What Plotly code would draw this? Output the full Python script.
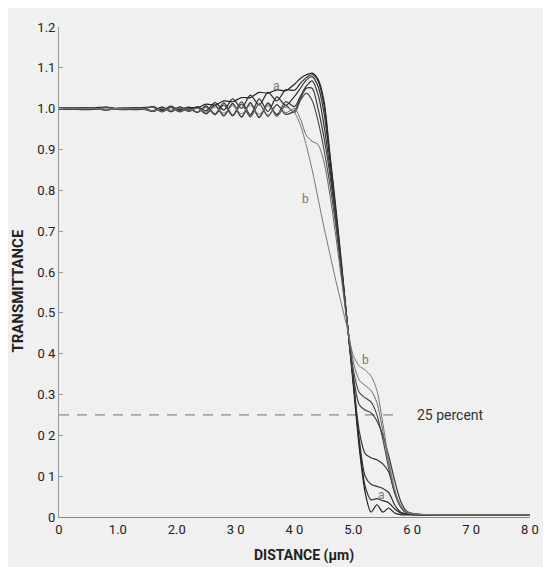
import plotly.graph_objects as go

# ---------------- data ----------------
distance = [0, 0.3, 0.6, 0.8, 1.0, 1.2, 1.4, 1.6, 1.75, 1.9, 2.05, 2.2, 2.35, 2.5, 2.65,
            2.8, 2.95, 3.1, 3.25, 3.4, 3.55, 3.7, 3.85, 4.0, 4.1, 4.2, 4.3, 4.4, 4.5, 4.6,
            4.7, 4.8, 4.9, 5.0, 5.1, 5.2, 5.3, 5.4, 5.5, 5.6, 5.7, 5.8, 5.9, 6.0, 6.2, 6.5,
            7.0, 8.0]

curve_a = [1.002, 1.002, 1.002, 1.004, 1.0, 1.002, 1.002, 1.004, 0.997, 1.004, 0.998, 1.003, 1.002,
           1.011, 1.009, 1.019, 1.017, 1.027, 1.027, 1.04, 1.038, 1.046, 1.044, 1.06, 1.074,
           1.083, 1.087, 1.072, 1.02, 0.89, 0.76, 0.62, 0.47, 0.32, 0.17, 0.06, 0.012, 0.03,
           0.012, 0.022, 0.01, 0.006, 0.005, 0.005, 0.005, 0.005, 0.005, 0.005]
curve_2 = [1.0, 1.0, 1.0, 0.997, 1.001, 1.0, 1.0, 0.995, 1.004, 0.995, 1.004, 0.997, 1.005,
           0.995, 1.015, 0.997, 1.024, 1.001, 1.033, 1.009, 1.04, 1.019, 1.046, 1.045, 1.062,
           1.076, 1.083, 1.068, 1.01, 0.885, 0.75, 0.61, 0.47, 0.33, 0.18, 0.075, 0.042,
           0.045, 0.04, 0.035, 0.02, 0.01, 0.007, 0.006, 0.005, 0.005, 0.005, 0.005]
curve_3 = [0.998, 0.998, 0.998, 1.003, 0.998, 0.998, 0.998, 1.005, 0.995, 1.006, 0.995, 1.004, 0.991,
           1.007, 0.987, 1.014, 0.984, 1.017, 0.985, 1.024, 0.993, 1.029, 1.008, 1.03, 1.05,
           1.07, 1.078, 1.055, 0.99, 0.875, 0.745, 0.61, 0.47, 0.33, 0.19, 0.1, 0.08, 0.075,
           0.07, 0.06, 0.03, 0.012, 0.007, 0.006, 0.005, 0.005, 0.005, 0.005]
curve_4 = [1.001, 1.001, 1.001, 0.997, 1.001, 1.001, 1.001, 0.994, 1.004, 0.993, 1.004, 0.995, 1.003,
           0.988, 1.009, 0.983, 1.013, 0.98, 1.015, 0.979, 1.014, 0.985, 1.017, 1.005, 1.03,
           1.055, 1.068, 1.035, 0.96, 0.855, 0.74, 0.605, 0.47, 0.335, 0.21, 0.155, 0.145,
           0.14, 0.13, 0.11, 0.06, 0.025, 0.01, 0.007, 0.006, 0.005, 0.005, 0.005]
curve_5 = [0.999, 0.999, 0.999, 1.003, 0.999, 0.999, 0.999, 1.004, 0.992, 1.003, 0.992, 1.0, 0.991,
           1.004, 0.985, 1.009, 0.982, 1.011, 0.98, 1.012, 0.981, 1.01, 0.986, 0.995, 1.025,
           1.05, 1.05, 1.0, 0.93, 0.84, 0.73, 0.6, 0.47, 0.345, 0.275, 0.262, 0.255, 0.235,
           0.2, 0.15, 0.09, 0.04, 0.015, 0.009, 0.006, 0.005, 0.005, 0.005]
curve_6 = [1.0, 1.0, 1.0, 0.997, 1.001, 1.0, 1.0, 0.993, 1.002, 0.992, 1.003, 0.993, 1.002,
           0.987, 1.008, 0.982, 1.012, 0.979, 1.014, 0.978, 1.013, 0.981, 1.008, 0.99, 1.02,
           1.038, 1.02, 0.97, 0.9, 0.815, 0.715, 0.595, 0.47, 0.36, 0.305, 0.292, 0.282,
           0.25, 0.19, 0.12, 0.06, 0.025, 0.01, 0.007, 0.006, 0.005, 0.005, 0.005]
curve_7 = [1.0, 1.0, 1.0, 1.002, 0.999, 1.0, 1.0, 1.003, 0.993, 1.003, 0.994, 1.0, 0.992,
           1.004, 0.987, 1.008, 0.984, 1.01, 0.983, 1.011, 0.984, 1.009, 0.99, 1.0, 0.975,
           0.935, 0.92, 0.912, 0.87, 0.79, 0.69, 0.58, 0.47, 0.38, 0.335, 0.322, 0.31, 0.28,
           0.21, 0.13, 0.065, 0.03, 0.012, 0.008, 0.006, 0.005, 0.005, 0.005]
curve_b = [1.0, 1.0, 1.0, 0.998, 1.0, 1.0, 1.0, 0.995, 1.001, 0.995, 1.001, 0.996, 1.001,
           0.992, 1.004, 0.989, 1.007, 0.987, 1.008, 0.986, 1.007, 0.988, 1.004, 0.99, 0.96,
           0.91, 0.85, 0.78, 0.71, 0.645, 0.58, 0.52, 0.46, 0.395, 0.37, 0.36, 0.345, 0.31,
           0.23, 0.14, 0.07, 0.025, 0.012, 0.008, 0.006, 0.005, 0.005, 0.005]

curves = [curve_a, curve_2, curve_3, curve_4, curve_5, curve_6, curve_7, curve_b]
curve_colors = ["#222222", "#2a2a2a", "#303030", "#353535", "#3a3a3a", "#454545", "#666666", "#777777"]
curve_widths = [1.2, 1.2, 1.2, 1.2, 1.2, 1.1, 1.0, 1.0]

x_tickvals = [0, 1, 2, 3, 4, 5, 6, 7, 8]
x_ticktext = ["0", "1.0", "2.0", "3 0", "4 0", "5.0", "6 0", "7 0", "8 0"]
y_tickvals = [0, 0.1, 0.2, 0.3, 0.4, 0.5, 0.6, 0.7, 0.8, 0.9, 1.0, 1.1, 1.2]
y_ticktext = ["0", "0 1", "0 2", "0.3", "0 4", "0.5", "0.6", "0.7", "0.8", "0.9", "1.0", "1.1", "1.2"]

threshold = 0.25
threshold_end = 5.77
threshold_label = "25 percent"

curve_labels = [("a", 3.69, 1.055), ("b", 4.18, 0.78), ("b", 5.2, 0.385), ("a", 5.47, 0.055)]

# ---------------- figure ----------------
FONT = "Roboto, Liberation Sans, Arial, sans-serif"

fig = go.Figure()

fig.add_trace(go.Scatter(
    x=[0, threshold_end], y=[threshold, threshold], mode="lines",
    line=dict(color="#707070", width=1, dash="10px,8px"), hoverinfo="skip", showlegend=False))

for c, col, w in zip(curves, curve_colors, curve_widths):
    fig.add_trace(go.Scatter(
        x=distance, y=c, mode="lines",
        line=dict(color=col, width=w, shape="spline", smoothing=0.8),
        showlegend=False))

for txt, xx, yy in curve_labels:
    fig.add_annotation(x=xx, y=yy, text=txt, showarrow=False,
                       font=dict(family=FONT, size=12, color="#777777"))

fig.add_annotation(x=threshold_end + 0.27, y=threshold, text=threshold_label, showarrow=False,
                   xanchor="left", yanchor="middle",
                   font=dict(family=FONT, size=14, color="#333333"))

fig.add_annotation(xref="paper", yref="paper", x=-0.086, y=0.463, text="<b>TRANSMITTANCE</b>",
                   textangle=-90, showarrow=False, xanchor="center", yanchor="middle",
                   font=dict(family=FONT, size=15, color="#222222"))
fig.add_annotation(xref="paper", yref="paper", x=0.52, y=-0.078, text="<b>DISTANCE (μm)</b>",
                   showarrow=False, xanchor="center", yanchor="middle",
                   font=dict(family=FONT, size=14, color="#222222"))

fig.update_layout(
    width=543, height=559,
    margin=dict(l=51, r=15, t=12, b=50),
    paper_bgcolor="#f0f0f0", plot_bgcolor="#f0f0f0",
    font=dict(family=FONT, size=12, color="#333333"),
    xaxis=dict(range=[0, 8], tickvals=x_tickvals, ticktext=x_ticktext, showgrid=False,
               zeroline=False, showline=True, linecolor="#888888", linewidth=1,
               ticks="", tickfont=dict(family=FONT, size=13, color="#222222")),
    yaxis=dict(range=[0, 1.2], tickvals=y_tickvals, ticktext=y_ticktext, showgrid=False,
               zeroline=False, showline=True, linecolor="#999999", linewidth=1,
               ticks="inside", ticklen=4, tickcolor="#999999",
               tickfont=dict(family=FONT, size=13, color="#222222")),
)

fig.write_html("out.html")
